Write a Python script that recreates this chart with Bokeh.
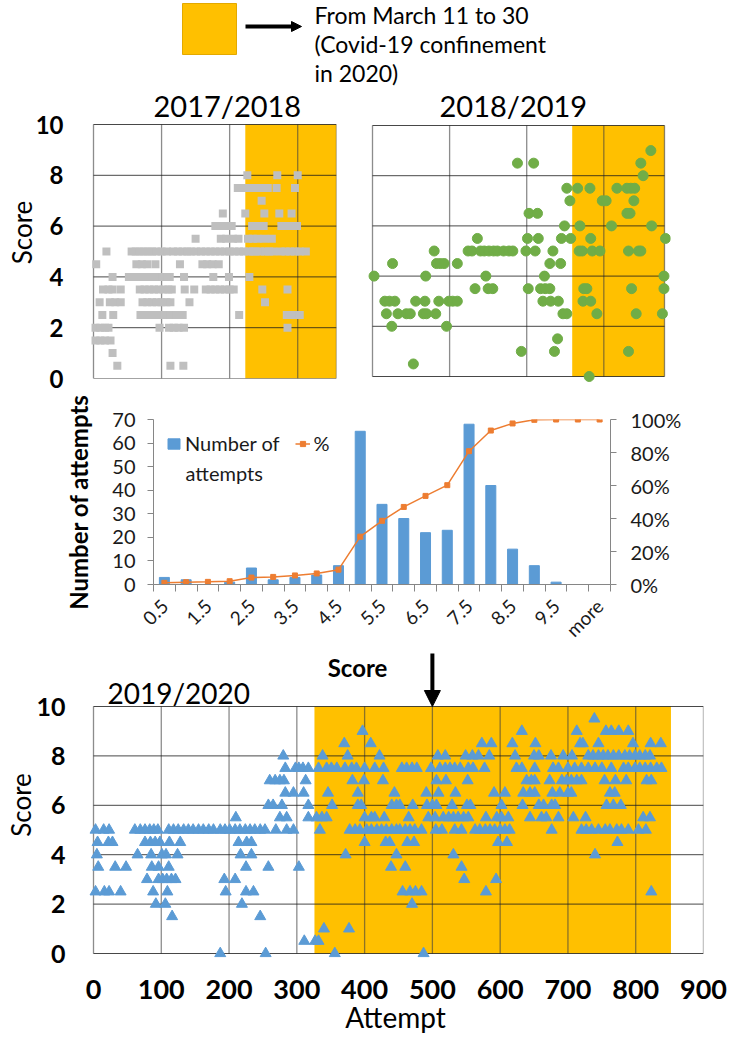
import math
import numpy as np
from bokeh.plotting import figure
from bokeh.layouts import column, row
from bokeh.models import (Range1d, LinearAxis, FixedTicker, NumeralTickFormatter,
                          CustomJSTickFormatter, Arrow, NormalHead, Legend, LegendItem)
from bokeh.embed import file_html
from bokeh.resources import INLINE
from bokeh.core.properties import value

# ---------------- data ----------------
# 2017/2018 : (score, attempts at that score)
rows_1718 = [
    (8.0, [226, 270, 300]),
    (7.5, [212, 219, 226, 233, 240, 247, 256, 269, 296]),
    (7.0, [247]),
    (6.5, [190, 223, 251, 273, 291]),
    (6.0, [179, 186, 193, 203, 233, 242, 250, 276, 284, 292, 299]),
    (5.5, [150, 187, 195, 205, 213, 227, 234, 241, 251, 262]),
    (5.0, [19, 56, 62, 68, 74, 80, 86, 92, 100, 108, 117, 124, 131, 138, 143,
           151, 158, 165, 172, 179, 186, 193, 200, 207, 214, 221, 228, 234,
           238, 245, 252, 258, 264, 275, 282, 289, 296, 303, 312]),
    (4.5, [4, 63, 71, 79, 91, 127, 160, 167, 175, 184]),
    (4.0, [28, 52, 59, 66, 73, 80, 87, 94, 101, 108, 112, 133, 176, 199, 229]),
    (3.5, [14, 22, 28, 40, 68, 75, 82, 89, 96, 103, 110, 115, 134, 148,
           165, 172, 179, 186, 193, 200, 206, 248, 285]),
    (3.0, [9, 24, 32, 40, 72, 79, 86, 93, 100, 107, 113, 141, 252]),
    (2.5, [13, 29, 69, 78, 87, 96, 104, 113, 122, 131, 214, 284, 293, 303]),
    (2.0, [3, 10, 17, 22, 97, 111, 118, 125, 133, 285]),
    (1.5, [3, 10, 17, 25]),
    (1.0, [28]),
    (0.5, [35, 113, 132]),
]

# 2018/2019
rows_1819 = [
    (9.0, [361]),
    (8.5, [188, 209, 348]),
    (8.0, [351]),
    (7.5, [252, 266, 282, 317, 330, 335, 340]),
    (7.0, [256, 298, 303, 339]),
    (6.5, [203, 214, 330, 334]),
    (6.0, [249, 269, 310, 362]),
    (5.5, [136, 201, 215, 245, 257, 283, 380]),
    (5.0, [80, 124, 129, 140, 145, 151, 157, 162, 170, 177, 182, 199, 211, 234,
           268, 272, 285, 295, 332, 345, 348]),
    (4.5, [26, 83, 88, 93, 110, 230, 244]),
    (4.0, [2, 69, 147, 223, 378]),
    (3.5, [133, 150, 156, 202, 218, 224, 230, 274, 278, 336, 378]),
    (3.0, [16, 22, 29, 56, 68, 86, 99, 104, 110, 221, 231, 241, 273, 283]),
    (2.5, [18, 33, 44, 49, 66, 70, 82, 247, 252, 291, 342, 376]),
    (2.0, [25, 96]),
    (1.5, [240]),
    (1.0, [193, 236, 332]),
    (0.5, [53]),
    (0.0, [281]),
]

# 2019/2020
rows_1920 = [
    (9.5, [739]),
    (9.0, [397, 632, 713, 756, 764, 775, 789]),
    (8.5, [370, 409, 573, 587, 618, 652, 718, 722, 745, 796, 822, 837]),
    (8.0, [280, 338, 375, 422, 508, 519, 549, 559, 568, 584, 622, 650, 657, 675,
           693, 706, 730, 737, 745, 752, 759, 767, 775, 784, 791, 799, 806, 814, 821]),
    (7.5, [283, 298, 303, 309, 317, 332, 344, 351, 359, 371, 381, 388, 400, 415,
           428, 455, 462, 470, 477, 498, 511, 519, 526, 533, 541, 553, 560, 577,
           624, 632, 651, 678, 686, 700, 710, 720, 730, 740, 750, 764, 782, 789,
           799, 806, 814, 822, 831, 838]),
    (7.0, [260, 268, 275, 281, 313, 382, 399, 427, 506, 520, 552, 639, 646, 651,
           673, 691, 698, 705, 713, 720, 754, 770, 786, 816, 823]),
    (6.5, [283, 295, 310, 346, 390, 444, 491, 509, 534, 591, 607, 634, 644, 651,
           677, 688, 700, 705, 762, 769]),
    (6.0, [258, 265, 278, 317, 352, 390, 395, 440, 447, 452, 471, 492, 500, 506,
           529, 551, 556, 602, 633, 657, 664, 676, 681, 757, 767, 778]),
    (5.5, [210, 275, 285, 317, 329, 337, 344, 400, 410, 415, 429, 465, 494, 504,
           516, 524, 531, 538, 546, 553, 579, 595, 602, 612, 644, 661, 668, 686,
           708, 726, 811, 821]),
    (5.0, [3, 15, 23, 61, 69, 76, 83, 89, 95, 111, 118, 125, 133, 140, 147, 155,
           162, 170, 177, 187, 194, 201, 209, 216, 224, 231, 238, 246, 253, 269,
           285, 295, 334, 378, 386, 393, 403, 410, 418, 425, 432, 440, 447, 452,
           460, 467, 474, 484, 505, 514, 533, 543, 563, 570, 578, 585, 592, 600,
           607, 614, 676, 720, 727, 735, 745, 755, 762, 772, 779, 789, 804, 815]),
    (4.5, [6, 22, 28, 76, 84, 91, 98, 112, 128, 214, 226, 233, 400, 431, 437,
           463, 473, 597, 610, 773]),
    (4.0, [5, 65, 85, 101, 107, 124, 217, 233, 372, 447, 531, 740]),
    (3.5, [7, 32, 48, 86, 96, 111, 225, 258, 303, 439, 460, 543]),
    (3.0, [79, 96, 102, 108, 115, 121, 193, 209, 547, 594]),
    (2.5, [3, 16, 23, 40, 88, 109, 195, 225, 236, 456, 467, 475, 484, 579, 823]),
    (2.0, [92, 106, 219, 470]),
    (1.5, [116, 246]),
    (1.0, [340, 377]),
    (0.5, [311, 327, 332]),
    (0.0, [187, 254, 356, 487]),
]

confinement_1718 = [223, 357]
confinement_1819 = [259, 378.7]
confinement_1920 = [326, 852]
attempt_max_1718 = 357
attempt_max_1819 = 378.7
attempt_max_1920 = 900
grid_attempts_1718 = [100, 200, 300]
grid_attempts_1819 = [100, 200, 300]
attempt_ticks_1920 = [0, 100, 200, 300, 400, 500, 600, 700, 800, 900]
arrow_attempt = 500
score_ticks = [0, 2, 4, 6, 8, 10]
season_titles = ["2017/2018", "2018/2019", "2019/2020"]

hist_bins = ["0.5", "1", "1.5", "2", "2.5", "3", "3.5", "4", "4.5", "5", "5.5",
             "6", "6.5", "7", "7.5", "8", "8.5", "9", "9.5", "10", "more"]
hist_counts = [3, 2, 0, 1, 7, 2, 3, 4, 8, 65, 34, 28, 22, 23, 68, 42, 15, 8, 1, 0, 0]
hist_cum_pct = [0.010, 0.014, 0.016, 0.020, 0.042, 0.046, 0.055, 0.067, 0.090,
                0.290, 0.386, 0.470, 0.537, 0.602, 0.808, 0.933, 0.976, 0.998,
                1.0, 1.0, 1.0]
count_ticks = [0, 10, 20, 30, 40, 50, 60, 70]
pct_ticks = [0, 0.2, 0.4, 0.6, 0.8, 1.0]
hist_legend = ["Number of", "attempts", "%"]

legend_lines = ["From March 11 to 30", "(Covid-19 confinement", "in 2020)"]

# ---------------- styles ----------------
FONT = "Lato"
YELLOW = "#FFC000"
GRAY_SQ = "#BFBFBF"
GREEN = "#70AD47"
BLUE = "#5B9BD5"
ORANGE = "#ED7D31"
AXGRAY = "#868686"

HIST_SPLIT = 650      # page row where the histogram canvas ends and the 2019/2020 canvas starts


def expand(rows):
    xs, ys = [], []
    for score, atts in rows:
        xs.extend(atts)
        ys.extend([score] * len(atts))
    return xs, ys


def make_panel(box_w, box_h, xmax, pads, borders):
    pl, pr, pb, pt = pads
    sx = box_w / xmax
    sy = box_h / 10.0
    p = figure(frame_width=box_w + pl + pr, frame_height=box_h + pb + pt,
               x_range=Range1d(-pl / sx, xmax + pr / sx),
               y_range=Range1d(-pb / sy, 10 + pt / sy),
               min_border_left=borders[0], min_border_right=borders[1],
               min_border_top=borders[2], min_border_bottom=borders[3],
               x_axis_location=None, y_axis_location=None, title=None,
               toolbar_location=None, output_backend="svg")
    p.outline_line_color = None
    p.xgrid.visible = False
    p.ygrid.visible = False
    return p, sx, sy


def draw_panel(p, xmax, vgrid, yel, rows, marker, size, color, line_color):
    p.quad(left=[yel[0]], right=[yel[1]], bottom=[0], top=[10],
           fill_color=YELLOW, line_color=None)
    vx = [0] + list(vgrid) + [xmax]
    p.segment(x0=vx, y0=[0] * len(vx), x1=vx, y1=[10] * len(vx),
              line_color="#404040", line_alpha=0.6, line_width=1.3)
    p.segment(x0=[0] * len(score_ticks), y0=score_ticks,
              x1=[xmax] * len(score_ticks), y1=score_ticks,
              line_color="#1a1a1a", line_alpha=0.8, line_width=1)
    xs, ys = expand(rows)
    p.scatter(xs, ys, marker=marker, size=size, fill_color=color, line_color=line_color)


def put_text(p, text, x, y, size, style="normal", align="left", color="black"):
    p.text(x=[x], y=[y], text=[text], text_align=align, text_baseline="middle",
           text_font=value(FONT), text_font_size=value(size), text_font_style=style,
           text_color=color)


def score_axis(standoff, label_standoff, tick_size="24px"):
    ax = LinearAxis(ticker=FixedTicker(ticks=score_ticks), axis_label="Score", bounds=(0, 10))
    ax.axis_line_color = None
    ax.major_tick_out = 0
    ax.major_tick_in = 0
    ax.minor_tick_out = 0
    ax.minor_tick_in = 0
    ax.major_tick_line_color = None
    ax.minor_tick_line_color = None
    ax.major_label_text_font = FONT
    ax.major_label_text_font_size = tick_size
    ax.major_label_text_font_style = "bold"
    ax.major_label_text_color = "black"
    ax.major_label_standoff = standoff
    ax.axis_label_text_font = FONT
    ax.axis_label_text_font_size = "26px"
    ax.axis_label_text_font_style = "normal"
    ax.axis_label_text_color = "black"
    ax.axis_label_standoff = label_standoff
    return ax


def gray_axis(ax, standoff):
    ax.axis_line_color = AXGRAY
    ax.major_tick_line_color = AXGRAY
    ax.major_tick_out = 6
    ax.major_tick_in = 0
    ax.minor_tick_out = 0
    ax.minor_tick_line_color = None
    ax.major_label_text_font = FONT
    ax.major_label_text_font_size = "20px"
    ax.major_label_text_color = "#1a1a1a"
    ax.major_label_standoff = standoff


# ---------------- header ----------------
HDR_H = 86
hdr = figure(frame_width=729, frame_height=HDR_H, x_range=Range1d(0, 729),
             y_range=Range1d(HDR_H, 0), min_border=0, x_axis_location=None,
             y_axis_location=None, title=None, toolbar_location=None, output_backend="svg")
hdr.outline_line_color = None
hdr.xgrid.visible = False
hdr.ygrid.visible = False
hdr.quad(left=[182], right=[236], top=[3], bottom=[54], fill_color=YELLOW, line_color="#E3A900")
hdr.add_layout(Arrow(end=NormalHead(size=10, fill_color="black", line_color="black"),
                     x_start=245, y_start=26, x_end=301, y_end=26,
                     line_width=4, line_color="black"))
hdr.text(x=[314, 314, 314], y=[14, 43, 72], text=legend_lines,
         text_font=value(FONT), text_font_size=value("23px"),
         text_baseline="middle", text_align="left", text_color="black")

# ---------------- 2017/2018 ----------------
p1, s1x, s1y = make_panel(243, 254, attempt_max_1718, (5, 0, 0, 124 - HDR_H), (88, 19, 0, 17))
draw_panel(p1, attempt_max_1718, grid_attempts_1718, confinement_1718, rows_1718,
           "square", 8, GRAY_SQ, None)
put_text(p1, season_titles[0], 60 / s1x, 10 + 19 / s1y, "29px")
p1.add_layout(score_axis(25, -5, "24px"), "left")

# ---------------- 2018/2019 ----------------
p2, s2x, s2y = make_panel(292, 251, attempt_max_1819, (6, 6, 6, 125 - HDR_H), (11, 59, 0, 13))
draw_panel(p2, attempt_max_1819, grid_attempts_1819, confinement_1819, rows_1819,
           "circle", 10, GREEN, GREEN)
put_text(p2, season_titles[1], 67 / s2x, 10 + 20 / s2y, "29px")

# ---------------- histogram ----------------
HW, HH = 457, 165
hsx = HW / len(hist_bins)
hsy = HH / 70.0
hx = (np.arange(len(hist_bins)) + 0.5).tolist()
ph = figure(frame_width=HW, frame_height=HH, x_range=Range1d(0, len(hist_bins)),
            y_range=Range1d(0, 70), min_border_left=153, min_border_right=119,
            min_border_top=24, min_border_bottom=HIST_SPLIT - 584, title=None,
            toolbar_location=None, output_backend="svg")
ph.outline_line_color = None
ph.xgrid.visible = False
ph.ygrid.visible = False
ph.extra_y_ranges = {"pct": Range1d(0, 1)}
bars = ph.vbar(x=hx, top=hist_counts, width=0.46, fill_color=BLUE, line_color=BLUE)
ln = ph.line(hx, hist_cum_pct, y_range_name="pct", line_color=ORANGE, line_width=1.5)
mk = ph.scatter(hx, hist_cum_pct, y_range_name="pct", marker="square", size=5,
                fill_color=ORANGE, line_color=ORANGE)

ya = ph.yaxis[0]
ya.ticker = FixedTicker(ticks=count_ticks)
gray_axis(ya, 12)
ya.axis_label = "Number of attempts"
ya.axis_label_text_font = FONT
ya.axis_label_text_font_size = "24px"
ya.axis_label_text_font_style = "bold"
ya.axis_label_text_color = "black"
ya.axis_label_standoff = 16

yr = LinearAxis(y_range_name="pct", ticker=FixedTicker(ticks=pct_ticks),
                formatter=NumeralTickFormatter(format="0%"))
gray_axis(yr, 14)
ph.add_layout(yr, "right")

xa = ph.xaxis[0]
xa.ticker = FixedTicker(ticks=hx[::2], minor_ticks=list(range(len(hist_bins) + 1)))
xa.formatter = CustomJSTickFormatter(args=dict(labels=hist_bins),
                                     code="return labels[Math.round(tick - 0.5)];")
xa.axis_line_color = AXGRAY
xa.major_tick_out = 0
xa.major_tick_in = 0
xa.major_tick_line_color = None
xa.minor_tick_out = 7
xa.minor_tick_in = 0
xa.minor_tick_line_color = AXGRAY
xa.major_label_orientation = math.pi / 4
xa.major_label_text_font = FONT
xa.major_label_text_font_size = "19px"
xa.major_label_text_color = "#1a1a1a"
xa.major_label_standoff = 11

legend = Legend(items=[LegendItem(label=hist_legend[0], renderers=[bars]),
                       LegendItem(label=hist_legend[2], renderers=[ln, mk])],
                location=(13, 129), orientation="horizontal")
legend.border_line_color = None
legend.background_fill_alpha = 0
legend.margin = 0
legend.padding = 0
legend.spacing = 15
legend.glyph_width = 15
legend.glyph_height = 13
legend.label_standoff = 4
legend.label_text_font = FONT
legend.label_text_font_size = "20px"
legend.label_text_color = "#1a1a1a"
ph.add_layout(legend)
# second line of the wrapped legend label
put_text(ph, hist_legend[1], 32 / hsx, 112 / hsy, "20px", color="#1a1a1a")

# ---------------- 2019/2020 ----------------
P3_TOP = 704 - HIST_SPLIT
p3, s3x, s3y = make_panel(610, 247, attempt_max_1920, (6, 0, 4, P3_TOP), (87, 26, 0, 88))
draw_panel(p3, attempt_max_1920, attempt_ticks_1920[1:-1], confinement_1920, rows_1920,
           "triangle", 11, BLUE, BLUE)
put_text(p3, season_titles[2], 14 / s3x, 10 + 14 / s3y, "28px")
# x-axis title of the histogram (sits just above this panel)
put_text(p3, "Score", 264 / s3x, 10 + 39 / s3y, "24px", style="bold", align="center")
p3.add_layout(score_axis(22, -4, "25px"), "left")
xb = LinearAxis(ticker=FixedTicker(ticks=attempt_ticks_1920), axis_label="Attempt")
xb.axis_line_color = None
xb.major_tick_out = 0
xb.major_tick_in = 0
xb.minor_tick_out = 0
xb.minor_tick_in = 0
xb.major_tick_line_color = None
xb.minor_tick_line_color = None
xb.major_label_text_font = FONT
xb.major_label_text_font_size = "27px"
xb.major_label_text_font_style = "bold"
xb.major_label_text_color = "black"
xb.major_label_standoff = 22
xb.axis_label_text_font = FONT
xb.axis_label_text_font_size = "28px"
xb.axis_label_text_font_style = "normal"
xb.axis_label_text_color = "black"
xb.axis_label_standoff = -2
p3.add_layout(xb, "below")

# arrow from the histogram down to attempt 500
p3.add_layout(Arrow(end=NormalHead(size=16, fill_color="black", line_color="black"),
                    x_start=arrow_attempt, y_start=10 + (P3_TOP - 1) / s3y,
                    x_end=arrow_attempt, y_end=10.0,
                    line_width=4, line_color="black"))

layout = column(row(hdr), row(p1, p2), row(ph), row(p3))
open("out.html", "w").write(file_html(layout, INLINE))
